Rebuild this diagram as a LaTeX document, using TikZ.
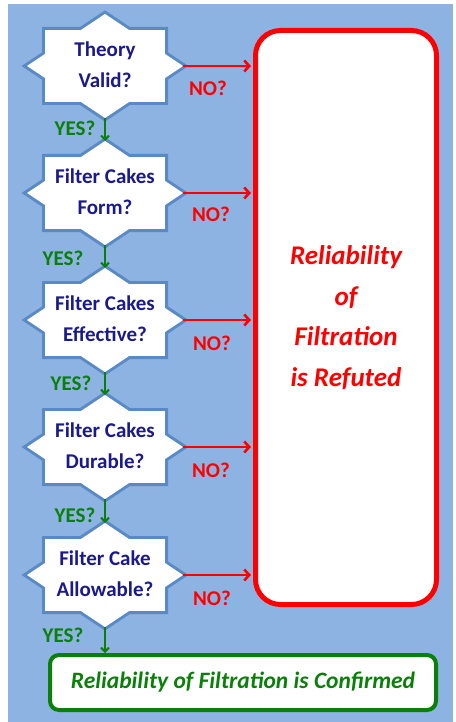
\documentclass[tikz,border=0pt]{standalone}
\usepackage{fontspec}
\setmainfont{Carlito}
\usetikzlibrary{arrows.meta}
\definecolor{bgblue}{HTML}{8DB3E2}
\definecolor{starline}{HTML}{5A8AC6}
\definecolor{navytext}{HTML}{1A1A8C}
\definecolor{okgreen}{HTML}{0A800A}
\definecolor{nored}{HTML}{FF0000}
\tikzset{
  starborder/.style={draw=starline, line width=6pt, line join=miter},
  qtext/.style={inner sep=0pt, align=center, text=navytext,
    font=\bfseries\fontsize{21}{31}\selectfont},
  nolabel/.style={inner sep=0pt, text=nored, font=\bfseries\fontsize{21}{22}\selectfont},
  yeslabel/.style={inner sep=0pt, text=okgreen, font=\bfseries\fontsize{21}{22}\selectfont},
  noarrow/.style={draw=nored, line width=2.6pt, -{Straight Barb[length=5pt,width=11pt]}, shorten >=2pt},
  yesarrow/.style={draw=okgreen, line width=2pt, -{Straight Barb[length=4pt,width=8pt]}},
}
\newcommand\decision[4]{%
  \path[starborder] (#2-78,#3) -- (#2,#3-52) -- (#2+78,#3) -- (#2,#3+52) -- cycle
     (#2-60,#3-36) rectangle (#2+60,#3+36);
  \path[fill=white] (#2-78,#3) -- (#2,#3-52) -- (#2+78,#3) -- (#2,#3+52) -- cycle;
  \path[fill=white] (#2-60,#3-36) rectangle (#2+60,#3+36);
  \node[qtext] (#1) at (#2,#3-1) {#4};
  \coordinate (#1-n) at (#2,#3-52);
  \coordinate (#1-s) at (#2,#3+52);
  \coordinate (#1-e) at (#2+78,#3);
}
\begin{document}
\begin{tikzpicture}[x=1pt,y=-1pt]
\useasboundingbox (0,0) rectangle (455,722);
\fill[bgblue] (8,4) rectangle (453,722);

\decision{q1}{105}{66}{Theory\\Valid?}
\decision{q2}{105}{193}{Filter Cakes\\Form?}
\decision{q3}{105}{320}{Filter Cakes\\Effective?}
\decision{q4}{105}{447}{Filter Cakes\\Durable?}
\decision{q5}{105}{575}{Filter Cake\\Allowable?}

\node[draw=nored, line width=5pt, rounded corners=25pt, fill=white,
      minimum width=181pt, minimum height=574pt, inner sep=0pt,
      text=nored, align=center,
      font=\bfseries\itshape\fontsize{27}{40.5}\selectfont]
      (refuted) at (346,317.5) {Reliability\\of\\Filtration\\is Refuted};

\node[draw=okgreen, line width=4pt, rounded corners=9pt, fill=white,
      minimum width=386pt, minimum height=55pt, inner sep=0pt,
      text=okgreen, font=\bfseries\itshape\fontsize{23.5}{25}\selectfont]
      (confirmed) at (243,682.5) {Reliability of Filtration is Confirmed};

\foreach \q in {q1,q2,q3,q4,q5}{
  \draw[noarrow] (\q-e) -- (\q-e -| refuted.west);
}
\draw[yesarrow] (q1-s) -- (q2-n);
\draw[yesarrow] (q2-s) -- (q3-n);
\draw[yesarrow] (q3-s) -- (q4-n);
\draw[yesarrow] (q4-s) -- (q5-n);
\draw[yesarrow] (q5-s) -- (q5-s |- confirmed.north);

\node[nolabel] (no1) at (208,88) {NO?};
\node[nolabel] (no2) at (211,214) {NO?};
\node[nolabel] (no3) at (212,343) {NO?};
\node[nolabel] (no4) at (211,470) {NO?};
\node[nolabel] (no5) at (212,598) {NO?};

\node[yeslabel] (yes1) at (75,128) {YES?};
\node[yeslabel] (yes2) at (63,258) {YES?};
\node[yeslabel] (yes3) at (71,383) {YES?};
\node[yeslabel] (yes4) at (75,515) {YES?};
\node[yeslabel] (yes5) at (63,635) {YES?};
\end{tikzpicture}
\end{document}
